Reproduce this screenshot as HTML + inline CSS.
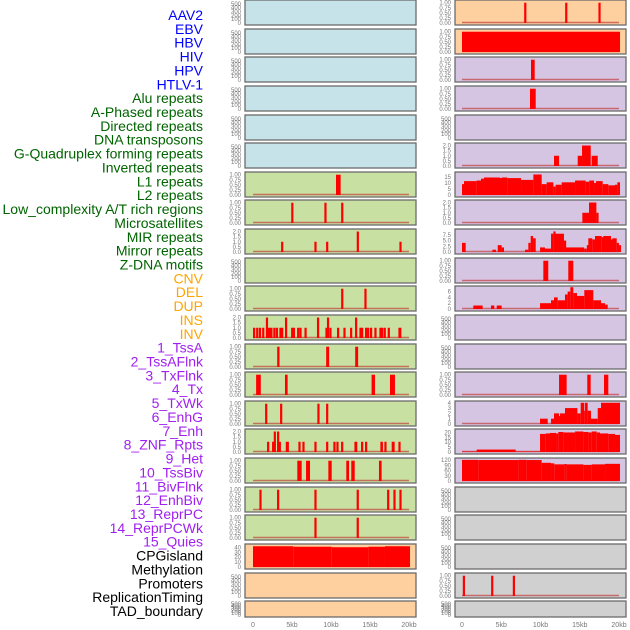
<!DOCTYPE html>
<html><head><meta charset="utf-8"><style>
html,body{margin:0;padding:0;background:#fff;width:630px;height:630px;overflow:hidden}
svg{display:block}
</style></head><body>
<svg id="chart" width="630" height="630" viewBox="0 0 630 630" xmlns="http://www.w3.org/2000/svg"></svg>
<script>
const labels=["AAV2","EBV","HBV","HIV","HPV","HTLV-1","Alu repeats","A-Phased repeats","Directed repeats","DNA transposons","G-Quadruplex forming repeats","Inverted repeats","L1 repeats","L2 repeats","Low_complexity A/T rich regions","Microsatellites","MIR repeats","Mirror repeats","Z-DNA motifs","CNV","DEL","DUP","INS","INV","1_TssA","2_TssAFlnk","3_TxFlnk","4_Tx","5_TxWk","6_EnhG","7_Enh","8_ZNF_Rpts","9_Het","10_TssBiv","11_BivFlnk","12_EnhBiv","13_ReprPC","14_ReprPCWk","15_Quies","CPGisland","Methylation","Promoters","ReplicationTiming","TAD_boundary"];
const labelGroups=[6,13,5,15,5];
const xTicks=[0,5000,10000,15000,20000];
const xTickLabels=["0","5kb","10kb","15kb","20kb"];
const ticksEmpty=[0,100,200,300,400,500];
const ticks01=[0,0.25,0.5,0.75,1];
const ticks02=[0,0.5,1,1.5,2];
// bars: [start, end, value]
const L6=[[10640,11240,1]];
const L7=[[4900,5100,1],[9150,9350,1],[11300,11500,1]];
const L8=[[3600,3800,1],[7870,8070,1],[9370,9570,1],[13300,13500,2],[18770,18970,1]];
const L10=[[11300,11500,1],[14280,14480,1]];
const L11=[[0,150,1],[400,600,1],[750,950,1],[1170,1370,1],[1650,1850,2],[1900,2500,1],[2600,2850,1],[2930,3150,1],[3380,3580,1],[3600,3780,1],[4100,4280,2],[4880,5080,1],[5100,5280,1],[5650,5850,1],[5950,6150,1],[6600,6780,1],[8200,8380,2],[9280,9450,1],[9480,9660,2],[9790,9960,1],[10770,10950,1],[11590,11770,1],[12440,12620,1],[13080,13260,2],[13640,13820,1],[13850,14030,1],[14360,14540,1],[14620,14800,1],[15000,15180,1],[15560,15740,1],[16200,16380,1],[16410,16590,1],[16750,16930,1],[17270,17450,1],[18640,19020,1]];
const L12=[[3100,3400,1],[9380,9760,1],[13100,13480,1]];
const L13=[[400,1000,1],[4100,4440,1],[15200,15640,1],[17560,18200,1]];
const L14=[[1550,1710,1],[3470,3630,1],[8250,8410,1],[9370,9530,1]];
const L15=[[1800,1960,1],[2440,2600,1],[2660,2820,2],[3080,3240,2],[3300,3460,1],[4200,4600,1],[5820,5980,1],[6330,6490,1],[7870,8030,1],[9370,9530,1],[10300,10460,1],[10690,10850,1],[11290,11450,1],[13000,13370,1],[13850,14010,1],[14360,14520,1],[16330,16660,1],[16840,17000,1],[17780,18160,1],[18640,18800,1]];
const L16=[[5680,6240,1],[6800,7310,1],[9660,10090,1],[11960,12310,1],[12600,13040,1],[16150,16490,1]];
const L17=[[820,980,1],[3080,3240,1],[7870,8030,1],[13290,13450,1],[17190,17350,1],[18000,18160,1],[18770,18930,1]];
const L18=[[7870,8030,1],[13290,13450,1]];
const L19=[[0,5170,42.5],[5170,10090,41.5],[10090,14790,40.5],[14790,16920,41.5],[16920,20130,42.5]];
const R0=[[7920,8060,1],[13140,13280,1],[17380,17520,1]];
const R1=[[0,20130,1]];
const R2=[[8790,9260,1]];
const R3=[[8660,9390,1]];
const R5=[[11720,12360,1],[14740,15290,1],[15290,16400,2],[16520,17290,1]];
const R6=[[0,255,9],[255,1870,11.5],[1870,2420,12],[2420,2800,13.5],[2800,4840,14.5],[4840,5050,14],[5050,5780,14.5],[5780,7520,14],[7520,9090,12.5],[9090,10150,17],[10150,10790,9],[10790,11640,10.5],[11640,11930,7],[11930,12700,8.5],[12700,14400,10.5],[14400,15750,12],[15750,16220,11],[16220,16820,12],[16820,17070,10],[17070,17920,11.5],[17920,18640,9],[18640,19490,8],[19490,19790,8.5],[19790,20130,10.5]];
const R7=[[15330,16180,1],[16180,17120,2],[17120,17250,1]];
const R8=[[0,470,4],[3870,4330,1],[4550,5050,3],[5050,5350,2],[8030,8450,1],[8450,8750,4],[8750,9050,7],[9050,9390,6],[9940,10570,2],[10570,11340,1.5],[11340,11640,8],[11640,11850,9],[11850,12990,8],[12990,13210,5],[13210,15560,2],[15560,15900,1.5],[15900,16090,3],[16090,16600,6],[16600,16940,5.5],[16940,17800,7],[17800,18000,6.5],[18000,18980,7],[18980,19150,5.5],[19150,19710,6],[19710,19980,4],[19980,20130,3]];
const R9=[[10360,10990,1],[13540,14180,1]];
const R10=[[1440,2630,1.2],[3690,4120,1.2],[4420,5050,1.2],[9940,11340,2],[11340,11720,3],[11720,12190,4],[12190,13120,3],[13120,13460,5],[13460,13800,6],[13800,14180,7.5],[14180,14650,5.5],[14650,15580,4.5],[15580,16730,6.5],[16730,17710,3],[17710,18220,2],[18220,18560,1.5]];
const R13=[[12360,13330,1],[15960,16390,1],[18090,18640,1]];
const R14=[[9940,10920,1],[11340,11720,1],[11720,12360,2],[12360,12490,1.5],[12490,13120,2],[13120,14700,3],[14700,15120,2],[15120,15580,4],[15580,15670,2.5],[15670,16010,4],[16010,16430,2.5],[16430,17290,1],[17290,17710,3],[17710,20130,4]];
const R15=[[0,1870,0.5],[1870,6840,2.5],[6840,9940,0.5],[9940,10660,18.5],[10660,11210,19],[11210,11980,19.5],[11980,12270,19],[12270,12910,20.5],[12910,14400,20],[14400,15460,21],[15460,16100,20.5],[16100,16520,20],[16520,17160,21],[17160,17580,20],[17580,18640,19],[18640,19490,18.5],[19490,20130,17.5]];
const R16=[[0,2080,122],[2080,7180,121],[7180,8240,122],[8240,10150,121],[10150,11340,105],[11340,11760,102],[11760,13040,96],[13040,13330,98],[13330,15460,96],[15460,16520,93],[16520,18220,96],[18220,20130,99]];
const R20=[[100,240,1],[3710,3850,1],[6470,6610,1]];

const C={blue:"#c6e3ea",green:"#c8e0a1",orange:"#ffd09f",purple:"#d6c5e2",gray:"#d0d0d0"};
const leftPanels=[];
for(let i=0;i<22;i++){let bg=i<6?C.blue:(i<19?C.green:C.orange);leftPanels.push({bg:bg,bars:null,ymax:560,ticks:ticksEmpty});}
function setP(arr,i,bars,ymax,ticks){arr[i].bars=bars;arr[i].ymax=ymax;arr[i].ticks=ticks;}
setP(leftPanels,6,L6,1.06,ticks01);setP(leftPanels,7,L7,1.06,ticks01);setP(leftPanels,8,L8,2.1,ticks02);
setP(leftPanels,10,L10,1.06,ticks01);setP(leftPanels,11,L11,2.1,ticks02);setP(leftPanels,12,L12,1.06,ticks01);
setP(leftPanels,13,L13,1.06,ticks01);setP(leftPanels,14,L14,1.06,ticks01);setP(leftPanels,15,L15,2.1,ticks02);
setP(leftPanels,16,L16,1.06,ticks01);setP(leftPanels,17,L17,1.06,ticks01);setP(leftPanels,18,L18,1.06,ticks01);
setP(leftPanels,19,L19,44,[0,10,20,30,40]);
const rightPanels=[];
for(let i=0;i<22;i++){let bg=i<2?C.orange:(i<17?C.purple:C.gray);rightPanels.push({bg:bg,bars:null,ymax:560,ticks:ticksEmpty});}
setP(rightPanels,0,R0,1.06,ticks01);setP(rightPanels,1,R1,1.06,ticks01);setP(rightPanels,2,R2,1.06,ticks01);
setP(rightPanels,3,R3,1.06,ticks01);setP(rightPanels,5,R5,2.1,ticks02);setP(rightPanels,6,R6,17.8,[0,5,10,15]);
setP(rightPanels,7,R7,2.1,ticks02);setP(rightPanels,8,R8,9.4,[0,2.5,5,7.5]);setP(rightPanels,9,R9,1.06,ticks01);
setP(rightPanels,10,R10,7.4,[0,2,4,6]);setP(rightPanels,13,R13,1.06,ticks01);setP(rightPanels,14,R14,4.05,[0,1,2,3,4]);
setP(rightPanels,15,R15,22,[0,5,10,15,20]);setP(rightPanels,16,R16,124,[0,30,60,90,120]);setP(rightPanels,20,R20,1.06,ticks01);

const NS="http://www.w3.org/2000/svg";
const svg=document.getElementById('chart');
function mk(tag,attrs,parent){const e=document.createElementNS(NS,tag);for(const k in attrs)e.setAttribute(k,attrs[k]);(parent||svg).appendChild(e);return e;}
const groupColors=["#0000ff","#006400","#ffa500","#a020f0","#000000"];
let li=0;
labelGroups.forEach((n,g)=>{for(let k=0;k<n;k++){const y=15+li*(596/43);const t=mk('text',{x:203,y:y+5,'text-anchor':'end','font-family':'Liberation Sans, sans-serif','font-size':'14',fill:groupColors[g]});


t.textContent=labels[li];li++;}});
function fmt(v,ticks){const step=ticks[1]-ticks[0];if(step===0.25)return v.toFixed(2);if(step===0.5||step===2.5)return v.toFixed(1);return String(v);}
function drawCol(panels,x0,x1,sx0,sx1,side){
 const xs=bp=>sx0+bp*(sx1-sx0)/20000;
 panels.forEach((p,i)=>{
  const top=Math.round(i*28.63);const h=i===21?16:25;
  const g=mk('g',{});
  
  
  mk('rect',{x:x0,y:top,width:x1-x0,height:h,fill:p.bg,stroke:'#6b6b6b','stroke-width':1.3},g);
  const yb=top+h-2,ya=top+1.5;
  const ys=v=>yb-v/p.ymax*(yb-ya);
  p.ticks.forEach(tv=>{const t=mk('text',{x:x0-4,y:ys(tv)+2,'text-anchor':'end','font-family':'Liberation Sans, sans-serif','font-size':'6',fill:'#777'},g);
   
   
   t.textContent=fmt(tv,p.ticks);});
  if(p.bars){
   mk('line',{x1:xs(0),x2:xs(20000),y1:yb-0.5,y2:yb-0.5,stroke:'#c04040','stroke-width':1.5,'stroke-opacity':0.7},g);
   p.bars.forEach(b=>{const bx=xs(b[0]),bw=Math.max(2.2,xs(b[1])-xs(b[0]));const r=mk('rect',{x:bx,y:ys(b[2]),width:bw,height:yb-ys(b[2]),fill:'#ff0000'},g);
    
    });
  }
 });
 xTicks.forEach((tv,k)=>{const t=mk('text',{x:xs(tv),y:627,'text-anchor':'middle','font-family':'Liberation Sans, sans-serif','font-size':'7',fill:'#777'});
  
  
  t.textContent=xTickLabels[k];});
}
drawCol(leftPanels,245,416,253,409,'left');
drawCol(rightPanels,455,626,462,619,'right');
</script>
</body></html>
